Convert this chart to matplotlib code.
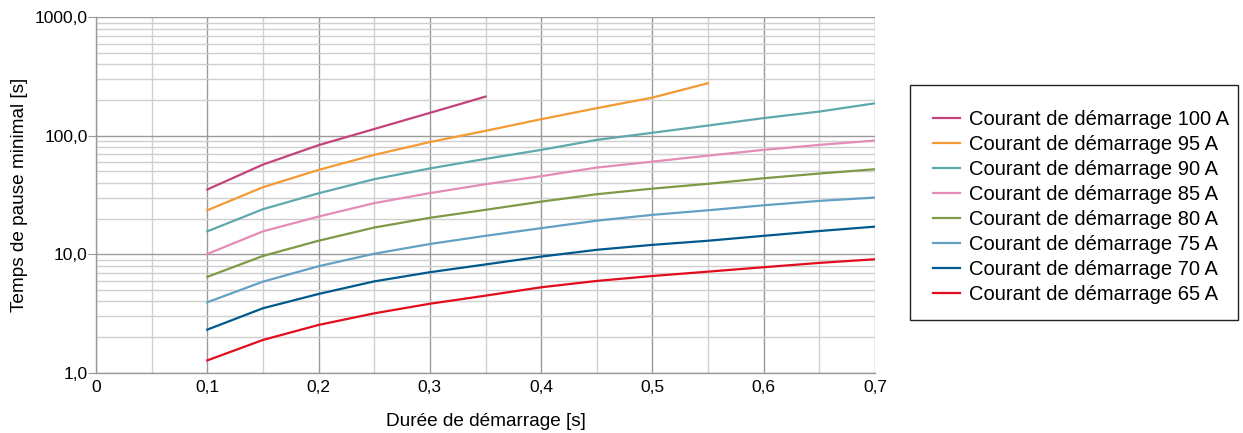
import matplotlib
matplotlib.use("Agg")
import matplotlib.pyplot as plt
from matplotlib.patches import Rectangle
from matplotlib.ticker import FixedLocator, FuncFormatter, NullFormatter, LogLocator

plt.rcParams['font.family'] = ['Liberation Sans', 'DejaVu Sans']

durations = [0.10, 0.15, 0.20, 0.25, 0.30, 0.35, 0.40, 0.45, 0.50, 0.55, 0.60, 0.65, 0.70]

labels = ["Courant de démarrage 100 A", "Courant de démarrage 95 A",
          "Courant de démarrage 90 A", "Courant de démarrage 85 A",
          "Courant de démarrage 80 A", "Courant de démarrage 75 A",
          "Courant de démarrage 70 A", "Courant de démarrage 65 A"]

i100 = [35.2, 57.1, 83.3, 114, 156, 214]
i95 = [23.5, 36.8, 51.5, 69.0, 88.5, 110, 138, 171, 210, 278]
i90 = [15.6, 24.0, 32.7, 43.0, 53.0, 63.8, 76, 92.3, 106, 122, 141, 160, 188]
i85 = [10.05, 15.6, 20.8, 27.0, 32.8, 39.0, 45.6, 53.9, 60.5, 68, 76, 83.8, 91.1]
i80 = [6.44, 9.67, 13.0, 16.8, 20.3, 23.7, 27.8, 32.1, 35.8, 39.3, 43.8, 48.0, 52.2]
i75 = [3.93, 5.87, 7.92, 10.1, 12.2, 14.3, 16.6, 19.2, 21.5, 23.5, 25.9, 28.2, 30.1]
i70 = [2.31, 3.50, 4.62, 5.90, 7.05, 8.20, 9.55, 10.9, 12.0, 13.0, 14.3, 15.7, 17.1]
i65 = [1.27, 1.89, 2.53, 3.17, 3.82, 4.47, 5.26, 5.95, 6.55, 7.13, 7.77, 8.45, 9.07]

series = [i100, i95, i90, i85, i80, i75, i70, i65]
colors = ["#C2437B", "#F39A34", "#5EA8AE", "#E38CB8", "#7E9A47", "#62A1C4", "#00598C", "#E30C1C"]

x_ticks = [0, 0.1, 0.2, 0.3, 0.4, 0.5, 0.6, 0.7]
y_ticks = [1, 10, 100, 1000]

W, H = 1243, 433
fig = plt.figure(figsize=(W / 100, H / 100), dpi=100)
ax = fig.add_axes([96 / W, 1 - 372.7 / H, (875 - 96) / W, (372.7 - 17.3) / H])

for vals, col, lab in zip(series, colors, labels):
    ax.plot(durations[:len(vals)], vals, color=col, lw=1.6, label=lab, zorder=3,
            solid_joinstyle='round')

ax.set_yscale('log')
ax.set_xlim(0, 0.7)
ax.set_ylim(1, 1000)

ax.xaxis.set_major_locator(FixedLocator(x_ticks))
ax.xaxis.set_minor_locator(FixedLocator([0.05 + 0.1 * k for k in range(7)]))
ax.yaxis.set_major_locator(FixedLocator(y_ticks))
ax.yaxis.set_minor_locator(LogLocator(base=10, subs=range(2, 10)))
ax.yaxis.set_minor_formatter(NullFormatter())

ax.xaxis.set_major_formatter(FuncFormatter(lambda v, p: "0" if abs(v) < 1e-9 else f"{v:.1f}".replace('.', ',')))
ax.yaxis.set_major_formatter(FuncFormatter(lambda v, p: f"{v:.1f}".replace('.', ',')))

ax.grid(which='major', color='#9a9a9a', lw=1.0, zorder=1)
ax.grid(which='minor', color='#cfcfcf', lw=1.0, zorder=1)
ax.set_axisbelow(True)

for s in ['top', 'right']:
    ax.spines[s].set_visible(False)
for s in ['left', 'bottom']:
    ax.spines[s].set_color('#9a9a9a')
    ax.spines[s].set_linewidth(1.0)

ax.tick_params(axis='y', which='major', length=6, color='#9a9a9a', labelsize=12.5, pad=0)
ax.tick_params(axis='y', which='minor', length=0)
ax.tick_params(axis='x', which='both', length=0, labelsize=12.5, pad=5)

ax.set_xlabel("Durée de démarrage [s]", fontsize=13.7, labelpad=13)
ax.set_ylabel("Temps de pause minimal [s]", fontsize=13.7, labelpad=5)

leg = fig.legend(loc='upper left', bbox_to_anchor=(917 / W, 1 - 94 / H), frameon=False,
                 fontsize=14.5, handlelength=1.35, handletextpad=0.45,
                 labelspacing=0.3, borderpad=0.8, borderaxespad=0)

fig.add_artist(Rectangle((910 / W, 1 - 320 / H), 328 / W, 235 / H, transform=fig.transFigure,
                         fill=False, edgecolor='#222222', linewidth=1.0))

fig.savefig("out.png", dpi=100)
